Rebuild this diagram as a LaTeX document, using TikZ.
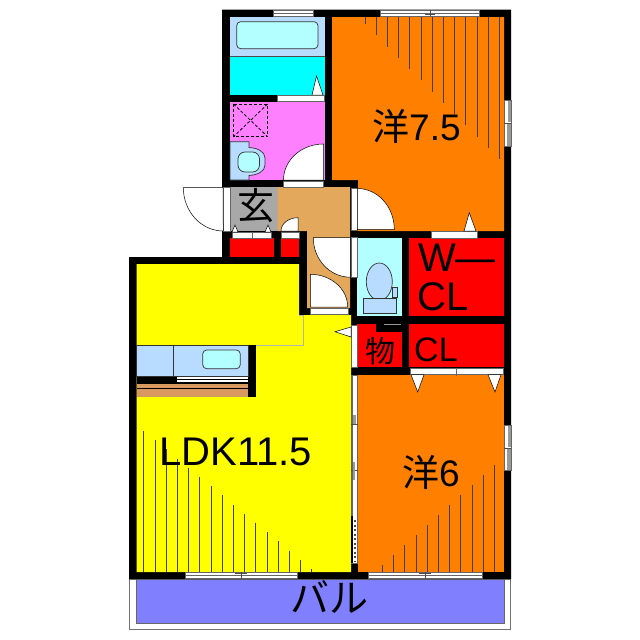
\documentclass[tikz,border=0pt]{standalone}
\usepackage{fontspec}
\setmainfont{Liberation Sans}
\newfontfamily\jpfont{Noto Sans CJK JP}
\definecolor{roomorange}{HTML}{FF8000}
\definecolor{roomyellow}{HTML}{FFFF00}
\definecolor{roompink}{HTML}{FF80FF}
\definecolor{roomcyan}{HTML}{00FFFF}
\definecolor{roomred}{HTML}{FF0000}
\definecolor{roomtan}{HTML}{E4A85C}
\definecolor{roomgray}{HTML}{A8A8A8}
\definecolor{roomblue}{HTML}{B8DCFF}
\definecolor{roomaqua}{HTML}{B3FFFF}
\definecolor{balcony}{HTML}{8080FF}
\definecolor{shelf}{HTML}{D89860}
\tikzset{
  wall/.style={fill=black},
  opening/.style={fill=white, draw=black!60, line width=0.5pt},
  leaf/.style={fill=white, draw=black, line width=0.5pt},
  fixture/.style={fill=roomblue, draw=black!80, line width=0.7pt},
  bowl/.style={fill=roomaqua, draw=black!80, line width=0.7pt},
  hatch/.style={draw=black!75, line width=0.8pt},
  faint/.style={draw=black!30, line width=0.4pt},
  label/.style={inner sep=0pt, anchor=base west},
}
\newcommand{\roomfont}{\fontsize{37}{37}\selectfont}
\newcommand{\widefont}{\fontsize{40}{40}\selectfont}
\begin{document}
\begin{tikzpicture}[x=1pt, y=-1pt]
  \useasboundingbox (0,0) rectangle (640,640);
  % balcony
  \draw[fill=white, draw=black!55, line width=0.7pt] (129,579) rectangle (510.5,629.5);
  \draw[fill=balcony, draw=black!60, line width=0.7pt] (136,579) rectangle (504,623.5);
  % walls
  \fill[wall] (222,9.5) -- (511,9.5) -- (511,579) -- (129,579) -- (129,257) -- (222,257) -- cycle;
  % rooms
  \fill[roomblue] (230,17) rectangle (325,55.5);
  \fill[roomcyan] (230,56.5) rectangle (325,95);
  \fill[roompink] (230,102) rectangle (325,180);
  \fill[roomorange] (332,17) -- (504,17) -- (504,231) -- (358,231) -- (358,180) -- (332,180) -- cycle;
  \fill[roomgray] (230,187) rectangle (277.5,231);
  \fill[roomtan] (277.5,187) -- (350,187) -- (350,308) -- (307,308) -- (307,231) -- (277.5,231) -- cycle;
  \fill[roomred] (230,238) rectangle (274,256.5);
  \fill[roomred] (281,238) rectangle (299,256.5);
  \fill[roomyellow] (136.7,264) -- (299,264) -- (299,315) -- (351,315) -- (351,572) -- (136.7,572) -- cycle;
  \fill[roomaqua] (357.3,238.3) rectangle (401.7,316);
  \fill[roomred] (409,238.3) rectangle (504,316);
  \fill[roomred] (357.3,323.7) rectangle (401.7,367);
  \fill[wall] (376,323.7) rectangle (401.7,332);
  \draw[draw=black!40, line width=0.6pt] (384,324.5) -- (401,324.5);
  \fill[roomred] (409,323.7) rectangle (504,367);
  \fill[roomorange] (358,374.5) rectangle (504,572);
  % floor hatching
  \foreach [evaluate=\i as \xx using 365+11.2*\i, evaluate=\i as \yy using 24+11.25*\i] \i in {0,...,12} {
    \draw[hatch] (\xx,17) -- (\xx,\yy);
  }
  \foreach [evaluate=\i as \xx using 143.7+11.2*\i, evaluate=\i as \yy using 431+9.2*\i] \i in {0,...,15} {
    \draw[hatch] (\xx,\yy) -- (\xx,572);
  }
  \foreach [evaluate=\i as \xx using 382.3+11.2*\i, evaluate=\i as \yy using 565-10*\i] \i in {0,...,10} {
    \draw[hatch] (\xx,\yy) -- (\xx,572);
  }
  \draw[faint] (299,315) -- (303.3,315) -- (303.3,345) -- (255.7,345);
  % bath
  \draw[bowl, rounded corners=4pt] (236.7,21.7) rectangle (318,48.7);
  \draw[draw=black!70, line width=0.7pt] (230,56) -- (325,56);
  \draw[leaf] (312,95) -- (316.5,76) -- (323,95) -- cycle;
  % wash room
  \draw[black, densely dashed, line width=0.8pt] (233.5,104) rectangle (267.6,136.7);
  \draw[black, densely dashed, line width=0.8pt] (233.5,104) -- (267.6,136.7) (267.6,104) -- (233.5,136.7);
  \draw[fixture] (230,141.7) -- (249,141.7) -- (249,147.5) .. controls (258,148) and (265,152) .. (265,158) -- (265,165)
    .. controls (265,171) and (258,175) .. (249,175.5) -- (249,180) -- (230,180) -- cycle;
  \draw[bowl, rounded corners=7pt] (238,152) rectangle (259.5,172);
  % kitchen
  \fill[wall] (136.7,345) rectangle (255.7,396.7);
  \draw[fixture] (136.7,345) rectangle (248,376);
  \draw[draw=black!80, line width=0.7pt] (173.3,345) -- (173.3,376);
  \draw[bowl, rounded corners=4pt] (202.7,350) rectangle (240.3,368.7);
  \foreach \yy in {377,380} {
    \fill[white] (177,\yy) rectangle (247.5,\yy+2.2);
  }
  \fill[shelf] (136.7,383.5) rectangle (248,387.5);
  \fill[shelf] (136.7,389) rectangle (248,396.7);
  % toilet
  \draw[fixture] (379.3,281.7) ellipse [x radius=13, y radius=18.7];
  \draw[fixture] (363.3,298) rectangle (396,313);
  \draw[fixture] (392.3,287) rectangle (397.7,297);
  % openings
  \foreach \xa/\ya/\xb/\yb in {
    273/10/313/16, 277/95.5/324.5/101.5, 283.5/181/323/187, 232.5/232/271/238,
    281/232/299/238, 310.3/308.5/348/314, 431/231.5/477.7/238, 410/368/503/374,
    185/572.5/297/578.5, 368/572.5/482.3/578.5, 380.7/10/479.3/16,
    223/187.5/230/231, 351/188/357/230, 351/237.5/357/277, 351/325/357/367, 351/375/357.5/563,
    504/100/511/146.7, 504/425/511/470} {
    \draw[opening] (\xa,\ya) rectangle (\xb,\yb);
  }
  % window marks
  \draw[black!60, line width=0.6pt] (185,575.5) -- (297,575.5);
  \draw[black!70, line width=0.6pt] (235,573.5) -- (247,573.5) (241,572) -- (241,579);
  \draw[black!60, line width=0.6pt] (368,575.5) -- (482.3,575.5);
  \draw[black!70, line width=0.6pt] (419,573.5) -- (431,573.5) (425,572) -- (425,579);
  \draw[black!60, line width=0.6pt] (380.7,13) -- (479.3,13);
  \draw[black!70, line width=0.6pt] (425,14) -- (435,14) (430,10) -- (430,16);
  \draw[black!60, line width=0.6pt] (273,13) -- (313,13);
  \draw[black!60, line width=0.6pt] (456,368) -- (456,376);
  \draw[black!60, line width=0.6pt] (252,232) -- (252,238);
  \fill[black!40] (508,100.5) rectangle (510.5,122);
  \fill[black!40] (507,124) rectangle (510.5,146.2);
  \fill[black!40] (508,425.5) rectangle (510.5,447);
  \fill[black!40] (507,449) rectangle (510.5,469.5);
  \draw[black!70, line width=0.6pt] (504,123) -- (511,123) (504,448) -- (511,448);
  % sliding door between the rooms
  \draw[black!60, line width=1pt] (352,375) -- (352,516);
  \fill[black] (351,516) rectangle (353,563);
  \draw[black!70, line width=1.2pt, dash pattern=on 2pt off 2.5pt] (355,520) -- (355,562);
  \draw[black!70, line width=0.6pt] (351,424) -- (357.5,424) (351,470.7) -- (357.5,470.7);
  \fill[black!40] (353,415) rectangle (356,424);
  \fill[black!40] (353,462) rectangle (355,480);
  % door leaves
  \draw[leaf] (283.5,180) arc [start angle=180, end angle=270, x radius=40, y radius=36] -- (323.5,180) -- cycle;
  \draw[leaf] (183.3,187.5) arc [start angle=180, end angle=90, x radius=40, y radius=43.5] -- (223,187.5) -- cycle;
  \draw[leaf] (281,231) arc [start angle=180, end angle=270, x radius=17, y radius=13.3] -- (298,231) -- cycle;
  \draw[leaf] (313.3,237.7) arc [start angle=180, end angle=90, x radius=37, y radius=39.5] -- (350.3,237.7) -- cycle;
  \draw[leaf] (310.3,274.3) arc [start angle=270, end angle=360, x radius=37.4, y radius=32.7] -- (310.3,307) -- cycle;
  \draw[leaf] (394.3,229.5) arc [start angle=0, end angle=-90, x radius=37, y radius=41] -- (357.3,229.5) -- cycle;
  % door marks
  \foreach \xa/\xb/\xc in {232/235/238, 265/268/271} {
    \draw[leaf] (\xa,232) -- (\xb,225) -- (\xc,232) -- cycle;
  }
  \draw[leaf] (464,231) -- (469.3,212.7) -- (476,231) -- cycle;
  \draw[leaf] (351,327) -- (335,331.7) -- (351,337) -- cycle;
  \draw[leaf] (411,374.7) -- (417.7,392) -- (424,374.7) -- cycle;
  \draw[leaf] (488,374.7) -- (495,392) -- (501,374.7) -- cycle;
  % names of the rooms
  \node[label] (yo75) at (372,140) {\roomfont{\jpfont 洋}7.5};
  \node[label] (ldk) at (159,465) {\widefont LDK11.5};
  \node[label] (yo6) at (402,486) {\roomfont{\jpfont 洋}6};
  \node[label] (wear) at (418,271) {\widefont W—};
  \node[label] (wcl) at (417,310) {\widefont CL};
  \node[label] (cl) at (414,361.7) {\fontsize{34}{34}\selectfont CL};
  \node[label] (mono) at (365,362) {\fontsize{30}{30}\selectfont\jpfont 物};
  \node[label] (gen) at (237,219) {\fontsize{37}{37}\selectfont\jpfont 玄};
  \node[inner sep=0pt] (bal) at (329,597) {\fontsize{39}{39}\selectfont\jpfont バル};
\end{tikzpicture}
\end{document}
